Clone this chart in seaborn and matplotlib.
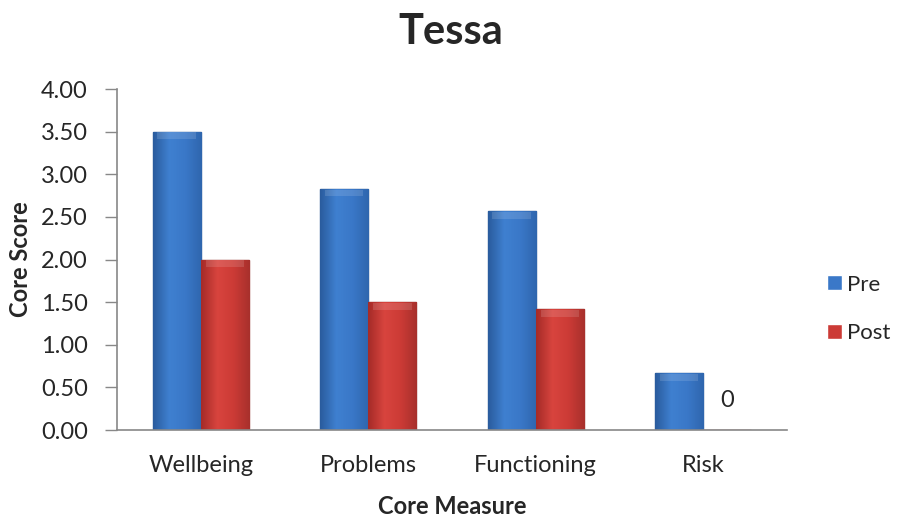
import numpy as np
import pandas as pd
import matplotlib.pyplot as plt
import matplotlib.colors as mcolors
import seaborn as sns

measures = ['Wellbeing', 'Problems', 'Functioning', 'Risk']
pre = [3.50, 2.83, 2.57, 0.67]
post = [2.00, 1.50, 1.42, 0.0]

df = pd.DataFrame({'Measure': measures * 2,
                   'Score': pre + post,
                   'Time': ['Pre'] * 4 + ['Post'] * 4})

sns.set_style('white')
plt.rcParams['font.family'] = ['Lato', 'DejaVu Sans']

fig = plt.figure(figsize=(9.02, 5.23), dpi=100)
ax = fig.add_axes([0.1297, 0.1778, 0.7428, 0.652])

ax = sns.barplot(x='Measure', y='Score', hue='Time', data=df,
                 palette={'Pre': '#3A78C8', 'Post': '#CC3B36'},
                 width=0.575, saturation=1, ax=ax)

# shading to mimic the bevelled excel bars
shades = {'Pre': ['#2A5C9E', '#3F80D0', '#3A78C8', '#2F66AE'],
          'Post': ['#A52B28', '#D8443E', '#CC3B36', '#A8302C']}
edges = {'Pre': '#24538F', 'Post': '#8E2522'}
for cont, name in zip(ax.containers, ['Pre', 'Post']):
    cmap = mcolors.LinearSegmentedColormap.from_list(name, shades[name])
    grad = np.linspace(0, 1, 64).reshape(1, -1)
    for bar in cont:
        x, y = bar.get_x(), bar.get_y()
        w, h = bar.get_width(), bar.get_height()
        bar.set_edgecolor(edges[name])
        bar.set_linewidth(1.0)
        if h <= 0:
            continue
        im = ax.imshow(grad, cmap=cmap, aspect='auto', zorder=bar.get_zorder() + 0.1,
                       extent=[x, x + w, y, y + h], interpolation='bicubic')
        im.set_clip_path(bar)
        # light bevel at the top
        ax.fill_between([x + w * 0.1, x + w * 0.9], y + h - 0.09, y + h - 0.01,
                        color='white', alpha=0.13, lw=0, zorder=bar.get_zorder() + 0.2)

ax.set_xlim(-0.5, 3.5)
ax.set_ylim(0, 4)

# only the zero value gets a label
post_cont = ax.containers[1]
ax.bar_label(post_cont, labels=['0' if v == 0 else '' for v in post],
             padding=14, fontsize=17)

ax.set_yticks([0, 0.5, 1, 1.5, 2, 2.5, 3, 3.5, 4])
ax.set_yticklabels(['%.2f' % t for t in ax.get_yticks()], fontsize=17)
ax.tick_params(axis='x', labelsize=17, length=0, pad=18)
ax.tick_params(axis='y', length=9, width=1, color='#888888', direction='out', left=True, pad=12)

for s in ['top', 'right']:
    ax.spines[s].set_visible(False)
for s in ['left', 'bottom']:
    ax.spines[s].set_color('#888888')
    ax.spines[s].set_linewidth(1.2)

ax.set_xlabel('Core Measure', fontsize=17, fontweight='bold', labelpad=14)
ax.set_ylabel('Core Score', fontsize=17, fontweight='bold', labelpad=6)

fig.suptitle('Tessa', fontsize=30, fontweight='bold', y=0.975)

ax.legend(title=None, frameon=False, fontsize=16, loc='center left',
          bbox_to_anchor=(1.03, 0.355), handlelength=0.65, handleheight=0.65,
          handletextpad=0.25, labelspacing=1.3)

fig.savefig('out.png', dpi=100)
